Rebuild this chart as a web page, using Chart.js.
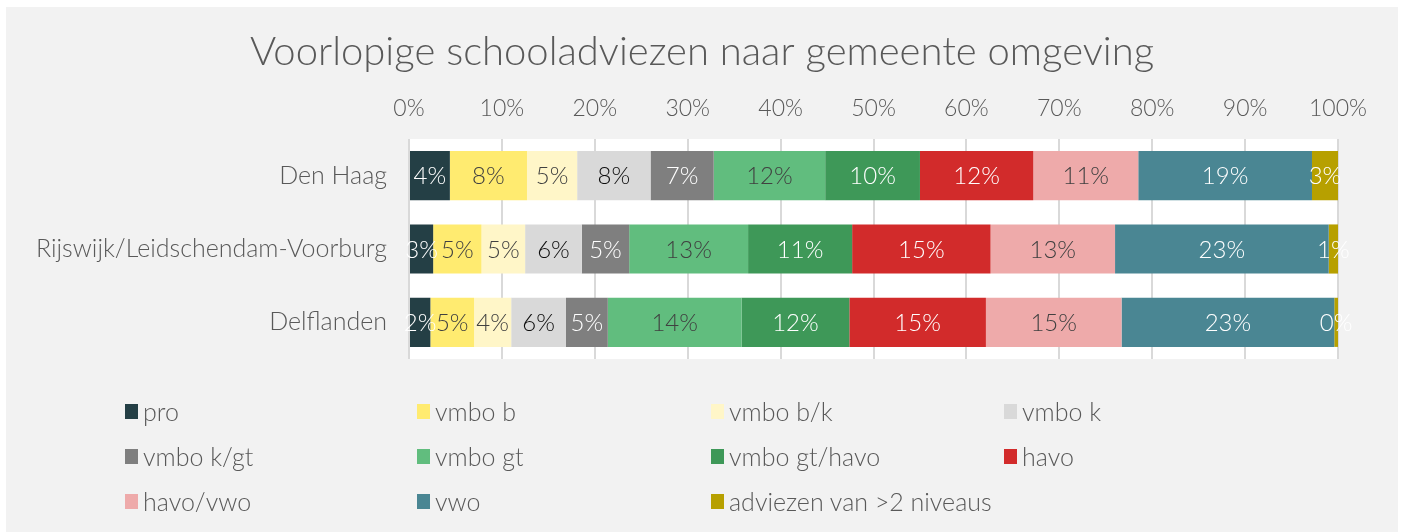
<!DOCTYPE html>
<html>
<head>
<meta charset="utf-8">
<script src="https://cdn.jsdelivr.net/npm/chart.js@4"></script>
<style>
  html, body { margin: 0; padding: 0; background: #fff; }
  #wrap { position: relative; width: 1402px; height: 532px; overflow: hidden; }
  #frame { position: absolute; left: 6px; top: 7px; width: 1392px; height: 525px; background: #f2f2f2; }
  #chart { position: absolute; left: 0; top: 0; }
  .item { position: absolute; display: flex; align-items: center; font: 300 25px Lato, sans-serif; color: #595959; white-space: nowrap; }
  .box { width: 13px; height: 15px; margin-right: 5px; }
</style>
</head>
<body>
<div id="wrap">
  <div id="frame"></div>
  <canvas id="chart" width="1402" height="532"></canvas>
  <div id="legend"></div>
</div>
<script>
// Regio's (categorieën)
const regions = ['Den Haag', 'Rijswijk/Leidschendam-Voorburg', 'Delflanden'];

// Aandeel per advies, in %: [Den Haag, Rijswijk/LV, Delflanden]
const pro        = [4.4, 2.6, 2.3];
const vmboB      = [8.3, 5.2, 4.7];
const vmboBK     = [5.4, 4.7, 4.0];
const vmboK      = [7.9, 6.1, 5.9];
const vmboKGT    = [6.8, 5.1, 4.5];
const vmboGT     = [12.0, 12.8, 14.4];
const vmboGTHavo = [10.2, 11.2, 11.6];
const havo       = [12.2, 14.9, 14.7];
const havoVwo    = [11.3, 13.4, 14.6];
const vwo        = [18.7, 23.0, 22.9];
const meerNiv    = [2.8, 1.0, 0.4];

const seriesNames = ['pro', 'vmbo b', 'vmbo b/k', 'vmbo k', 'vmbo k/gt', 'vmbo gt',
  'vmbo gt/havo', 'havo', 'havo/vwo', 'vwo', 'adviezen van >2 niveaus'];
const seriesData = [pro, vmboB, vmboBK, vmboK, vmboKGT, vmboGT, vmboGTHavo, havo, havoVwo, vwo, meerNiv];
const seriesColors = ['#243f45', '#ffeb70', '#fff6c8', '#d9d9d9', '#7f7f7f', '#61bd7e',
  '#3e9858', '#d22b2b', '#eeaaaa', '#4a8693', '#b7a000'];
// Kleur van de percentages in de balken
const labelColors = ['#fff', '#404040', '#404040', '#0d0d0d', '#fff', '#404040',
  '#fff', '#fff', '#404040', '#fff', '#fff'];

const titleText = 'Voorlopige schooladviezen naar gemeente omgeving';
const FONT = 'Lato, sans-serif';

// Witte plotachtergrond + titel
const backdrop = {
  id: 'backdrop',
  beforeDraw(chart) {
    const { ctx, chartArea: a } = chart;
    ctx.save();
    ctx.fillStyle = '#fff';
    ctx.fillRect(a.left, a.top, a.right - a.left, a.bottom - a.top);
    ctx.fillStyle = '#595959';
    ctx.font = '300 40px ' + FONT;
    ctx.textAlign = 'center';
    ctx.textBaseline = 'middle';
    ctx.fillText(titleText, 702, 52);
    ctx.restore();
  }
};

// Percentages midden in elk segment
const barLabels = {
  id: 'barLabels',
  afterDatasetsDraw(chart) {
    const ctx = chart.ctx;
    ctx.save();
    ctx.font = '300 24px ' + FONT;
    ctx.textAlign = 'center';
    ctx.textBaseline = 'middle';
    chart.data.datasets.forEach((ds, i) => {
      chart.getDatasetMeta(i).data.forEach((bar, j) => {
        const p = bar.getProps(['x', 'base', 'y'], true);
        ctx.fillStyle = labelColors[i];
        ctx.fillText(Math.round(ds.data[j]) + '%', (p.x + p.base) / 2, p.y + 1);
      });
    });
    ctx.restore();
  }
};

function build() {
  new Chart(document.getElementById('chart'), {
    type: 'bar',
    data: {
      labels: regions,
      datasets: seriesNames.map((name, i) => ({
        label: name,
        data: seriesData[i],
        backgroundColor: seriesColors[i],
        borderWidth: 0,
        barPercentage: 0.67,
        categoryPercentage: 1
      }))
    },
    options: {
      indexAxis: 'y',
      responsive: false,
      animation: false,
      layout: { padding: { left: 0, right: 64, top: 73, bottom: 173 } },
      plugins: {
        legend: { display: false },
        title: { display: false },
        tooltip: { enabled: false }
      },
      scales: {
        x: {
          position: 'top',
          stacked: true,
          min: 0,
          max: 100,
          afterFit: (s) => { s.height = 66; },
          grid: { color: '#d9d9d9', lineWidth: 2, drawTicks: false },
          border: { display: false },
          ticks: {
            stepSize: 10,
            padding: 17,
            color: '#595959',
            font: { family: FONT, size: 23, weight: '300' },
            callback: (v) => v + '%'
          }
        },
        y: {
          stacked: true,
          afterFit: (s) => { s.width = 409; },
          grid: { display: false, drawTicks: false },
          border: { display: false },
          ticks: {
            padding: 22,
            color: '#595959',
            font: { family: FONT, size: 25, weight: '300' }
          }
        }
      }
    },
    plugins: [backdrop, barLabels]
  });

  // Legenda in 4 kolommen
  const legend = document.getElementById('legend');
  const colX = [125, 417, 711, 1004];
  const rowY = [411, 456, 501];
  seriesNames.forEach((name, i) => {
    const el = document.createElement('div');
    el.className = 'item';
    el.style.left = colX[i % 4] + 'px';
    el.style.top = (rowY[Math.floor(i / 4)] - 16) + 'px';
    el.style.height = '32px';
    el.innerHTML = '<span class="box" style="background:' + seriesColors[i] + '"></span>';
    el.appendChild(document.createTextNode(name));
    legend.appendChild(el);
  });
}

Promise.all([
  document.fonts.load('300 24px Lato'),
  document.fonts.load('300 40px Lato')
]).then(build, build);
</script>
</body>
</html>
